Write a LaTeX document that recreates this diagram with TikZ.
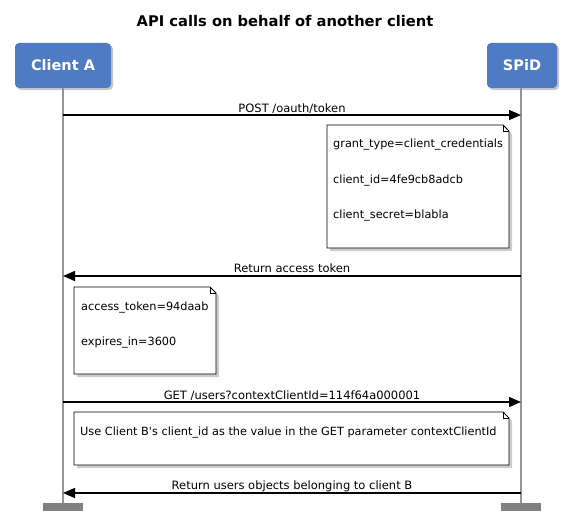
\documentclass[tikz,border=0pt]{standalone}
\usepackage{fontspec}
\setmainfont{DejaVu Sans}
\newfontfamily\djv{DejaVu Sans}
\usetikzlibrary{arrows.meta,shadows}
\definecolor{boxblue}{RGB}{79,122,196}
\definecolor{lifegray}{RGB}{150,150,150}
\definecolor{footgray}{RGB}{128,128,128}
\begin{document}
\begin{tikzpicture}[x=1pt,y=-1pt,
  actor/.style={fill=boxblue,rounded corners=4pt,text=white,
    font=\fontsize{14.5}{17}\selectfont\bfseries,minimum height=45pt,inner sep=0pt,
    drop shadow={shadow xshift=2pt,shadow yshift=-2pt,opacity=0.45}},
  lifeline/.style={draw=lifegray,line width=1.4pt},
  foot/.style={fill=footgray,minimum width=40pt,minimum height=8pt,inner sep=0pt},
  msg/.style={draw=black,line width=1.4pt,-{Triangle[length=12pt,width=10pt]}},
  mlabel/.style={font=\fontsize{11.5}{13}\selectfont,anchor=base,inner sep=0pt},
  notebox/.style={draw=black,line width=0.8pt,fill=white,
    drop shadow={shadow xshift=3pt,shadow yshift=-3pt,opacity=0.4}},
  notetext/.style={font=\djv\fontsize{11.3}{13}\selectfont,anchor=base west,inner sep=0pt},
]
\useasboundingbox (0,0) rectangle (568,519);

% title
\node[font=\fontsize{14.7}{17}\selectfont\bfseries,anchor=base] (title) at (285,27) {API calls on behalf of another client};

% actors
\node[actor,minimum width=96pt] (ca) at (63,65.5) {Client A};
\node[actor,minimum width=70pt] (sp) at (522,65.5) {SPiD};

% feet
\node[foot] (caf) at (63,507) {};
\node[foot] (spf) at (521,507) {};

% lifelines
\draw[lifeline] (ca.south) -- (caf.north);
\draw[lifeline] (sp.south -| spf) -- (spf.north);

% message anchor points
\coordinate (a1) at (63,115);  \coordinate (b1) at (521,115);
\coordinate (a2) at (63,276);  \coordinate (b2) at (521,276);
\coordinate (a3) at (63,402);  \coordinate (b3) at (521,402);
\coordinate (a4) at (63,493);  \coordinate (b4) at (521,493);

% note 1
\draw[notebox] (327,125) -- (503,125) -- (509,131) -- (509,248) -- (327,248) -- cycle;
\draw[line width=0.6pt] (503,125) -- (503,131) -- (509,131);
\node[notetext] (n1a) at (333,147) {grant\_type=client\_credentials};
\node[notetext] (n1b) at (333,183) {client\_id=4fe9cb8adcb};
\node[notetext] (n1c) at (333,218) {client\_secret=blabla};

% note 2
\draw[notebox] (74,287) -- (210,287) -- (216,293) -- (216,374) -- (74,374) -- cycle;
\draw[line width=0.6pt] (210,287) -- (210,293) -- (216,293);
\node[notetext] (n2a) at (81,310) {access\_token=94daab};
\node[notetext] (n2b) at (81,345) {expires\_in=3600};

% note 3
\draw[notebox] (74,412) -- (503,412) -- (509,418) -- (509,465) -- (74,465) -- cycle;
\draw[line width=0.6pt] (503,412) -- (503,418) -- (509,418);
\node[notetext] (n3a) at (80,435) {Use Client B's client\_id as the value in the GET parameter contextClientId};

% messages
\draw[msg] (a1) -- (b1);
\node[mlabel] (m1) at (292,112) {POST /oauth/token};
\draw[msg] (b2) -- (a2);
\node[mlabel] (m2) at (292,272) {Return access token};
\draw[msg] (a3) -- (b3);
\node[mlabel] (m3) at (292,399) {GET /users?contextClientId=114f64a000001};
\draw[msg] (b4) -- (a4);
\node[mlabel] (m4) at (292,489) {Return users objects belonging to client B};
\end{tikzpicture}
\end{document}
